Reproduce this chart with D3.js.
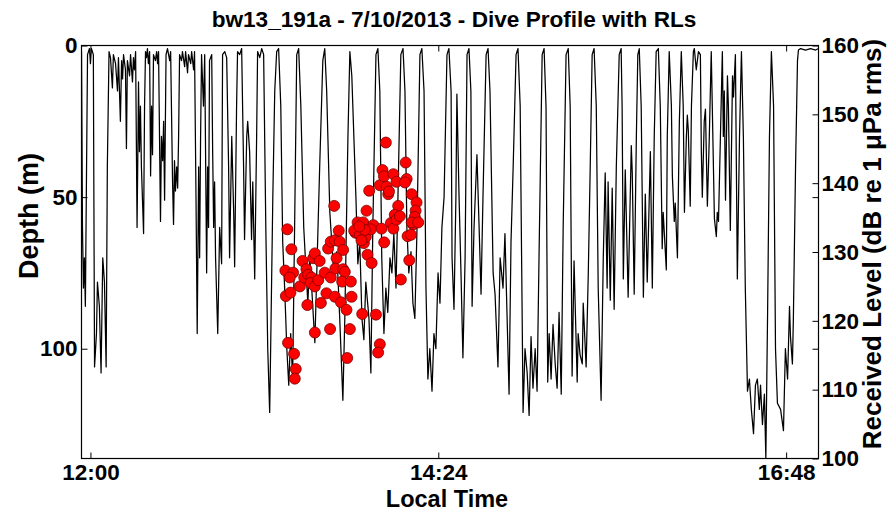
<!DOCTYPE html>
<html><head><meta charset="utf-8">
<script src="https://cdn.jsdelivr.net/npm/d3@7"></script>
<style>
body{margin:0;background:#fff;}
text{font-family:"Liberation Sans",Arial,sans-serif;font-weight:bold;fill:#000;}
</style></head>
<body>
<script>
// ---- DATA ----
const chartTitle = "bw13_191a - 7/10/2013 - Dive Profile with RLs";
// dive profile: minutes after 12:00 and depth (m)
const diveTime = [-3.7,-3.3,-2.9,-2.5,-2.1,-1.2,-0.4,0,0.4,1.2,1.7,2.5,2.9,3.7,4.4,5.1,5.8,6.5,7.0,7.7,8.3,9.1,9.5,10.4,11.2,11.6,12.4,12.9,13.3,13.7,14.5,14.9,15.3,16.2,16.6,17.4,17.8,18.2,18.7,19.3,19.7,19.9,20.3,20.7,21.1,22.0,22.4,22.8,23.2,23.6,24.0,24.5,24.9,25.3,25.7,26.1,26.9,27.4,27.8,28.2,29.0,29.4,29.9,30.3,30.7,31.3,31.9,32.8,33.2,34.0,34.4,34.8,35.2,35.7,36.1,36.5,36.9,37.7,38.1,39.0,39.4,40.2,40.6,41.5,41.9,42.7,43.1,43.7,44.2,44.8,45.2,45.6,46.0,46.8,47.3,48.1,48.5,48.9,49.3,50.2,50.6,51.0,51.4,51.8,52.7,53.5,54.3,54.7,55.6,56.4,57.2,57.6,58.5,59.3,59.7,60.5,60.9,61.8,62.6,63.4,63.8,64.7,65.1,65.9,66.7,67.2,68.0,68.8,69.2,70.1,70.9,71.7,72.6,73.4,74.2,74.6,75.5,76.3,77.1,77.9,78.8,79.6,80.4,81.3,82.1,82.9,83.7,84.6,85.4,86.2,87.1,88.3,89.1,90.0,90.8,91.6,92.9,93.7,94.9,96.2,97.0,97.8,99.1,100.7,102.0,103.2,104.5,105.3,106.6,107.4,108.2,109.9,110.7,111.5,112.4,113.2,114.0,115.3,116.1,116.9,118.2,119.0,119.8,120.6,121.5,122.3,123.1,124.0,124.8,125.6,126.5,127.3,128.5,129.4,130.2,131.0,131.8,132.7,133.5,134.3,135.2,136.4,137.2,138.1,138.9,139.7,140.5,141.4,142.2,143.0,143.9,144.7,145.5,146.4,147.6,148.4,149.3,149.7,150.5,151.3,151.7,152.6,153.4,154.2,155.1,155.9,156.7,157.5,158.0,158.8,160.0,160.9,161.7,162.5,163.8,164.6,165.4,166.7,167.5,168.7,169.6,170.8,171.6,172.5,173.3,174.1,175.0,176.2,177.0,177.9,179.1,179.9,180.8,181.6,182.4,183.2,184.1,184.9,185.7,187.0,187.8,188.6,189.3,189.9,190.7,191.5,192.4,193.2,194.0,194.9,195.7,196.9,197.8,198.6,199.4,200.2,201.5,201.9,202.7,203.6,204.0,205.2,206.1,206.9,207.7,208.5,209.4,210.2,211.4,212.3,213.1,213.9,214.3,215.2,216.0,216.8,217.7,218.9,219.7,220.1,220.6,221.4,222.6,223.9,224.3,225.1,226.0,226.6,227.2,228.0,228.9,229.7,230.5,231.8,232.6,233.4,234.2,235.1,235.9,236.7,237.1,238.4,238.8,239.6,240.5,240.9,241.7,242.1,243.0,243.8,244.6,245.4,245.9,246.7,247.1,247.5,248.3,248.8,249.6,250.0,250.8,251.7,252.5,252.9,253.3,254.1,254.6,255.4,256.2,257.0,257.9,258.3,259.1,259.5,260.0,260.8,261.6,262.0,262.4,262.9,263.7,264.1,264.9,265.8,266.2,267.0,267.4,267.8,268.7,269.5,270.3,271.1,272.0,272.8,273.6,274.5,275.3,276.1,276.9,277.4,278.2,279.0,279.6,280.3,281.1,281.9,282.8,283.6,284.4,285.7,286.9,287.7,288.6,289.4,289.8,290.6,291.0,291.9,292.7,293.1,294.0,296.0,298.1,300.2,301.4];
const diveDepth = [2,60,80,70,86,3,1,6,1,3,106,95,78,86,108,70,78,106,40,2,4,14,3,6,15,4,25,5,11,3,8,34,5,10,3,12,4,8,2,60,30,12,35,20,40,62,20,2,4,1,6,2,43,20,36,3,5,2,6,2,58,30,38,25,51,3,1,5,2,45,59,38,48,40,47,30,3,5,2,7,2,9,3,6,2,8,2,50,95,40,70,30,3,20,3,75,40,60,5,3,35,60,45,70,95,60,72,3,2,4,40,70,30,55,73,20,2,3,1,40,64,30,25,35,64,45,77,30,2,4,1,3,60,100,121,100,50,15,2,1,20,65,80,100,112,95,110,55,3,1,20,60,72,85,70,80,98,75,40,5,1,15,55,75,68,90,117,90,30,2,10,50,72,65,90,97,78,90,108,60,3,1,15,70,95,80,88,70,75,62,80,50,3,1,15,60,75,68,85,90,60,3,1,15,80,110,100,114,95,100,75,85,60,50,3,1,15,70,87,50,16,50,75,103,70,3,1,15,86,60,36,60,82,50,3,1,15,75,82,106,70,80,62,90,115,65,40,3,1,20,121,100,108,122,96,113,100,114,70,3,1,20,111,95,110,92,105,113,88,115,60,3,1,20,109,71,111,95,102,105,85,106,75,40,3,1,20,80,117,70,42,80,45,84,47,87,40,3,1,20,77,41,83,33,42,82,30,3,1,20,83,49,78,35,80,30,2,1,20,67,55,74,30,2,20,43,58,52,70,25,2,20,55,30,23,28,53,20,2,1,8,2,3,35,50,25,21,53,30,2,40,57,63,55,58,30,2,30,15,51,10,20,61,10,17,3,40,77,30,2,30,80,114,110,120,128,112,110,120,112,125,115,136,90,30,2,20,100,118,120,127,100,110,86,96,105,90,40,5,1.5,1,1.5,1,1.5,1];
// received levels: minutes after 12:00 and dB re 1 uPa rms
const rlTime = [81.5,83.2,80.7,83.9,82.5,80.9,82.8,86.7,87.8,89.4,88.5,90.1,91.5,92.2,92.9,94.9,91.2,92.9,94.3,89.8,95.4,97.0,99.5,97.7,101.2,103.7,101.9,101.4,104.6,105.3,104.2,107.8,108.1,106.0,102.8,100.9,98.4,99.5,101.2,103.2,104.6,92.9,99.2,107.4,106.3,81.8,84.3,85.0,84.6,112.5,118.2,119.8,119.1,114.7,116.4,113.2,114.3,115.4,110.6,112.9,109.7,109.2,111.5,114.0,117.1,116.1,113.6,120.5,121.6,119.8,122.6,120.9,121.5,123.3,123.6,122.3,125.4,126.7,127.4,126.0,124.4,125.4,126.7,128.1,130.5,130.9,130.2,133.0,135.0,134.6,134.3,133.6,133.0,135.7,131.3,132.7,132.0,128.5,112.2,111.3];
const rlLevel = [133.3,130.4,127.3,127.0,126.3,123.6,124.1,125.0,128.7,127.5,126.3,126.7,126.3,129.1,129.8,128.7,125.5,125.0,125.9,122.3,122.6,127.0,126.3,124.0,123.5,122.7,129.1,127.6,127.5,127.1,125.7,125.7,123.5,121.6,133.1,136.7,130.5,131.5,131.7,131.5,130.3,118.3,118.8,118.8,114.6,116.8,115.2,113.0,111.6,121.0,120.9,116.6,115.4,129.6,128.4,131.3,136.0,138.9,134.3,134.3,132.8,133.1,132.5,132.2,133.9,133.3,133.2,133.4,131.4,139.7,139.5,141.9,141.0,138.4,138.8,145.9,141.3,140.2,136.7,135.4,134.2,133.4,134.7,135.2,143.0,140.6,140.1,138.4,137.2,136.0,135.1,134.0,134.3,134.3,132.3,132.5,128.8,126.0,131.7,133.7];
const depthTicks = [0, 50, 100];
const rlTicks = [100, 110, 120, 130, 140, 150, 160];
const timeTicks = [0, 144, 288];
const timeTickLabels = ["12:00", "14:24", "16:48"];
const depthDomain = [0, 136.2];
const rlDomain = [100, 160];
const timeDomain = [-3.7, 301.4];

// ---- LAYOUT ----
const W = 888, H = 511;
const L = 81.5, R = 818.5, T = 45.5, B = 458.5;
const svg = d3.select("body").append("svg").attr("width", W).attr("height", H);
svg.append("rect").attr("width", W).attr("height", H).attr("fill", "#fff");

const x = d3.scaleLinear().domain(timeDomain).range([L, R]);
const y = d3.scaleLinear().domain(depthDomain).range([T, B]);
const yR = d3.scaleLinear().domain(rlDomain).range([B, T]);

svg.append("clipPath").attr("id", "clip").append("rect")
  .attr("x", L).attr("y", T).attr("width", R - L).attr("height", B - T);

const profile = diveTime.map((t, i) => [t, diveDepth[i]]);
svg.append("path").datum(profile)
  .attr("clip-path", "url(#clip)")
  .attr("fill", "none").attr("stroke", "#000").attr("stroke-width", 1.25)
  .attr("stroke-linejoin", "round")
  .attr("d", d3.line().x(d => x(d[0])).y(d => y(d[1])));

const rl = rlTime.map((t, i) => [t, rlLevel[i]]);
svg.append("g").selectAll("circle").data(rl).join("circle")
  .attr("cx", d => x(d[0])).attr("cy", d => yR(d[1])).attr("r", 5.5)
  .attr("fill", "#ff0000").attr("stroke", "#7a0000").attr("stroke-width", 0.8);

// axes
const fs = "22.5px";
function style(g) {
  g.select(".domain").remove();
  g.selectAll("line").attr("stroke", "#000").attr("stroke-width", 1);
  g.selectAll("text").style("font-size", fs).style("font-family", "'Liberation Sans',Arial,sans-serif").style("font-weight", "bold");
}
svg.append("g").attr("transform", `translate(${L},0)`)
  .call(d3.axisLeft(y).tickValues(depthTicks).tickSize(-6).tickPadding(4)).call(style);
svg.append("g").attr("transform", `translate(${R},0)`)
  .call(d3.axisRight(y).tickValues(depthTicks.slice(1)).tickSize(-6).tickFormat("")).call(style);
svg.append("g").attr("transform", `translate(${R},0)`)
  .call(d3.axisRight(yR).tickValues(rlTicks).tickSize(-6).tickPadding(3)).call(style);
svg.append("g").attr("transform", `translate(0,${B})`)
  .call(d3.axisBottom(x).tickValues(timeTicks).tickSize(-6).tickPadding(6)
    .tickFormat((d, i) => timeTickLabels[i])).call(style);
svg.append("g").attr("transform", `translate(0,${T})`)
  .call(d3.axisTop(x).tickValues(timeTicks).tickSize(-6).tickFormat("")).call(style);

svg.append("rect").attr("x", L).attr("y", T).attr("width", R - L).attr("height", B - T)
  .attr("fill", "none").attr("stroke", "#000").attr("stroke-width", 1.2);

// labels
svg.append("text").attr("x", 454).attr("y", 27).attr("text-anchor", "middle")
  .style("font-size", "22.6px").text(chartTitle);
svg.append("text").attr("x", 447).attr("y", 507).attr("text-anchor", "middle")
  .style("font-size", "23.5px").text("Local Time");
svg.append("text").attr("transform", "translate(38,216) rotate(-90)").attr("text-anchor", "middle")
  .style("font-size", "27px").text("Depth (m)");
svg.append("text").attr("transform", "translate(881,244) rotate(-90)").attr("text-anchor", "middle")
  .style("font-size", "26px").text("Received Level (dB re 1 μPa rms)");
</script>
</body></html>
